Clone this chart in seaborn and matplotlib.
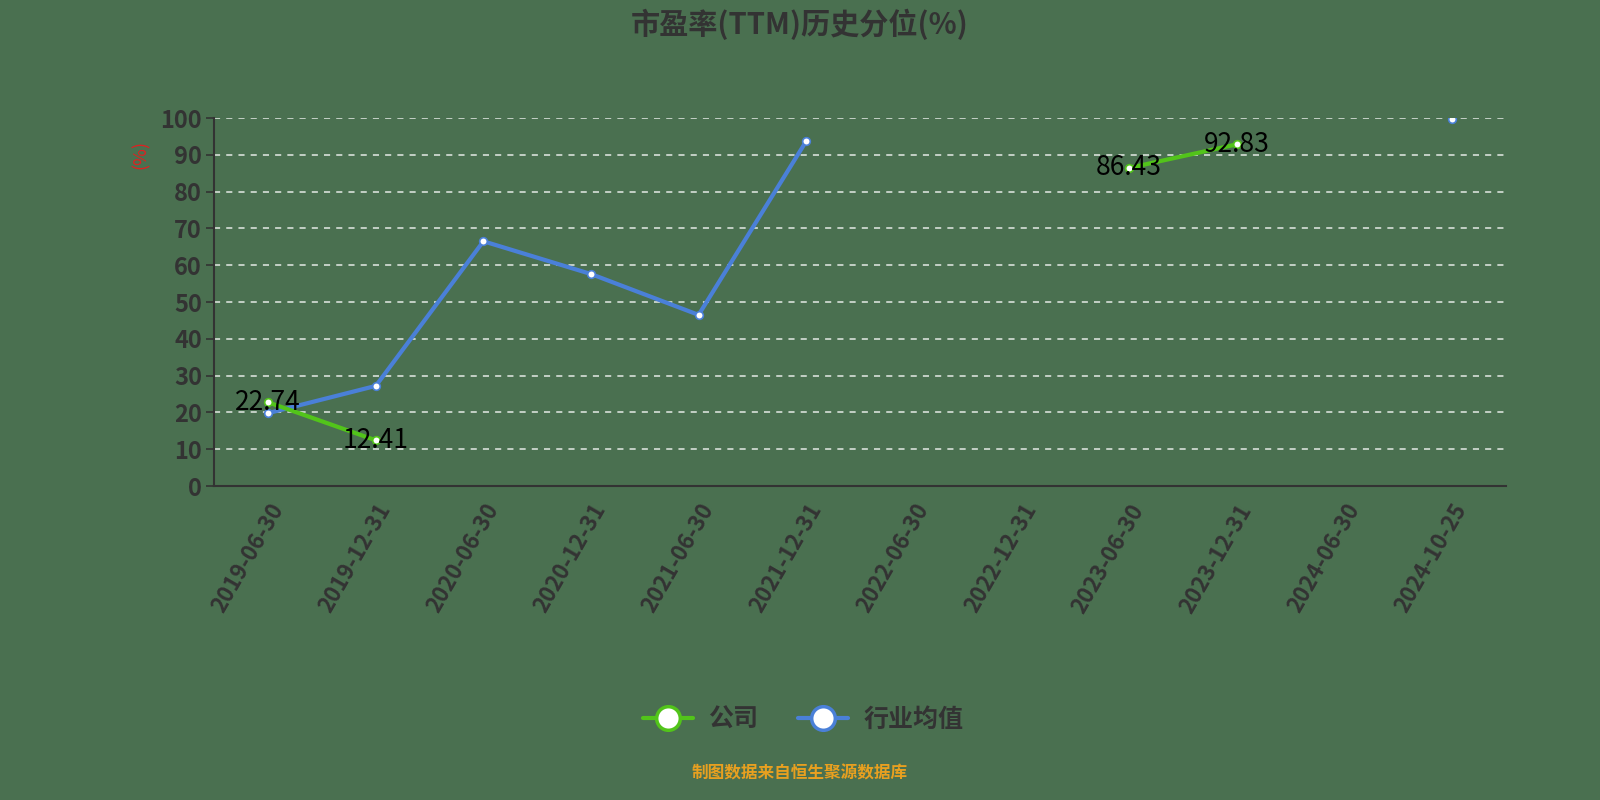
import numpy as np
import pandas as pd
import matplotlib
matplotlib.use("Agg")
import matplotlib.pyplot as plt
import seaborn as sns
from matplotlib.lines import Line2D

dates = ["2019-06-30", "2019-12-31", "2020-06-30", "2020-12-31", "2021-06-30",
         "2021-12-31", "2022-06-30", "2022-12-31", "2023-06-30", "2023-12-31",
         "2024-06-30", "2024-10-25"]
company = [22.74, 12.41, np.nan, np.nan, np.nan, np.nan, np.nan, np.nan,
           86.43, 92.83, np.nan, np.nan]
industry = [19.8, 27.2, 66.5, 57.6, 46.5, 93.7, np.nan, np.nan,
            np.nan, np.nan, np.nan, 99.8]

BG = "#4a7050"
GREEN = "#52c41a"
BLUE = "#4a80d8"
TXT = "#333333"

sns.set_theme(style="white")
plt.rcParams["font.family"] = ["Noto Sans CJK SC", "DejaVu Sans"]

df = pd.DataFrame({"date": dates, "公司": company, "行业均值": industry})
df["x"] = np.arange(len(dates))

fig = plt.figure(figsize=(16, 8), dpi=100, facecolor=BG)
ax = fig.add_axes([0.134, 0.3925, 0.807, 0.46])
ax.set_facecolor(BG)

for col, color, z in [("行业均值", BLUE, 3), ("公司", GREEN, 4)]:
    ax.plot(df["x"], df[col], color=color, lw=3, zorder=z)
    sns.scatterplot(x="x", y=col, data=df, ax=ax, color="white", s=30,
                    edgecolor=color, linewidth=1.2, zorder=z + 1, legend=False)

for xi, v in zip(df["x"], company):
    if not np.isnan(v):
        ax.text(xi, v, f"{v:.2f}", ha="center", va="center", fontsize=19,
                fontweight="medium", color="black", zorder=10)

ax.set_xlim(-0.5, len(dates) - 0.5)
ax.set_ylim(0, 100)
ax.set_yticks(range(0, 101, 10))
ax.set_xticks(df["x"])
ax.set_xticklabels(dates, rotation=60, ha="right", rotation_mode="anchor",
                   fontsize=16, fontweight="bold", color=TXT)
ax.set_xticks(np.arange(-0.5, len(dates), 1), minor=True)
ax.tick_params(axis="x", which="major", length=0, pad=10)
ax.tick_params(axis="x", which="minor", length=6, color=TXT, width=1.2)
ax.tick_params(axis="y", labelsize=17, labelcolor=TXT, length=6, color=TXT,
               width=1.2, left=True, pad=3)
for t in ax.get_yticklabels():
    t.set_fontweight("bold")
ax.grid(axis="y", color="white", ls=(0, (4, 4)), lw=1.1, alpha=0.85)
ax.set_axisbelow(True)
for s in ["top", "right"]:
    ax.spines[s].set_visible(False)
for s in ["left", "bottom"]:
    ax.spines[s].set_color(TXT)
    ax.spines[s].set_linewidth(1.5)
ax.set_xlabel("")
ax.set_ylabel("(%)", color="#e02020", fontsize=13, labelpad=2)
ax.yaxis.set_label_coords(-0.05, 0.9)

fig.text(0.5, 0.97, "市盈率(TTM)历史分位(%)", ha="center", va="center",
         fontsize=21, fontweight="bold", color=TXT)

handles = [Line2D([], [], color=GREEN, lw=3, marker="o", markersize=17,
                  markerfacecolor="white", markeredgecolor=GREEN, markeredgewidth=2.5),
           Line2D([], [], color=BLUE, lw=3, marker="o", markersize=17,
                  markerfacecolor="white", markeredgecolor=BLUE, markeredgewidth=2.5)]
fig.legend(handles, ["公司", "行业均值"], loc="center", bbox_to_anchor=(0.502, 0.1),
           ncol=2, frameon=False, labelcolor=TXT, handlelength=2.0,
           columnspacing=1.6, handletextpad=0.6,
           prop={"weight": "bold", "size": 18})

fig.text(0.5, 0.033, "制图数据来自恒生聚源数据库", ha="center", va="center",
         fontsize=12, fontweight="bold", color="#e8a020")

fig.savefig("out.png", dpi=100, facecolor=BG)
